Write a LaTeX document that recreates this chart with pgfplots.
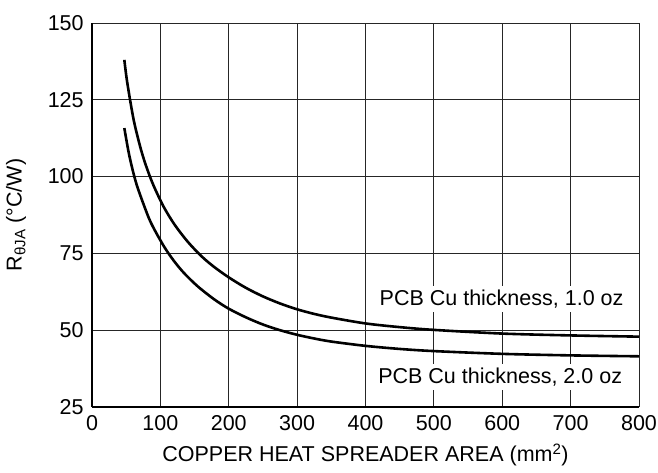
\documentclass[border=0pt]{standalone}
\usepackage{fontspec}
\setmainfont{Liberation Sans}
\usepackage{pgfplots}
\pgfplotsset{compat=1.18}

\begin{document}
\fontsize{21.5}{26}\selectfont
\begin{tikzpicture}
\useasboundingbox (-92pt,-66pt) rectangle (566pt,407pt);
\begin{axis}[
    scale only axis,
    width=547pt, height=384pt,
    xmin=0, xmax=800, ymin=25, ymax=150,
    xtick={0,100,...,800},
    ytick={25,50,...,150},
    grid=major,
    grid style={black!85, line width=0.8pt},
    axis x line=bottom, axis y line=left,
    axis line style={-, line width=2pt},
    major tick length=0pt,
    /pgf/number format/assume math mode=true,
    tick label style={font=\fontsize{21.5}{26}\selectfont},
    label style={font=\fontsize{21.5}{26}\selectfont},
    xticklabel style={yshift=-1pt},
    yticklabel style={xshift=-1pt},
    every axis x label/.style={at={(axis description cs:0.5,-0.125)},anchor=center},
    every axis y label/.style={at={(axis description cs:-0.139,0.5)},rotate=90,anchor=center},
    xlabel={COPPER HEAT SPREADER AREA (mm\textsuperscript{2})},
    ylabel={R\textsubscript{θJA} (°C/W)},
]
% PCB Cu thickness, 1.0 oz
\addplot[black, line width=2.6pt, smooth] coordinates {
    (47.3,138) (51.5,130.7) (61,118.4) (71.5,108.9) (80,102.9) (90,97.1)
    (105,90.1) (121,84.3) (140,78.8) (160,74.1) (178,70.7) (200,67.2)
    (225,63.8) (250,61.0) (275,58.7) (300,56.8) (325,55.3) (350,54.1)
    (400,52.2) (450,51.0) (500,50.1) (600,48.9) (700,48.3) (800,47.9)
};
% PCB Cu thickness, 2.0 oz
\addplot[black, line width=2.6pt, smooth] coordinates {
    (47.3,115.8) (54.7,106.7) (65,97.6) (81,87.7) (90,83.3) (106,77.0)
    (120,72.5) (135,68.5) (155,64.2) (179,60.0) (200,57.0) (225,54.2)
    (250,51.85) (275,50.0) (300,48.5) (325,47.3) (350,46.3) (400,44.9)
    (450,43.9) (500,43.2) (600,42.3) (700,41.8) (800,41.5)
};
\node[fill=white, inner sep=4pt] at (axis cs:599,60.2) {PCB Cu thickness, 1.0 oz};
\node[fill=white, inner sep=4pt] at (axis cs:597,34.8) {PCB Cu thickness, 2.0 oz};
\end{axis}
\end{tikzpicture}
\end{document}
